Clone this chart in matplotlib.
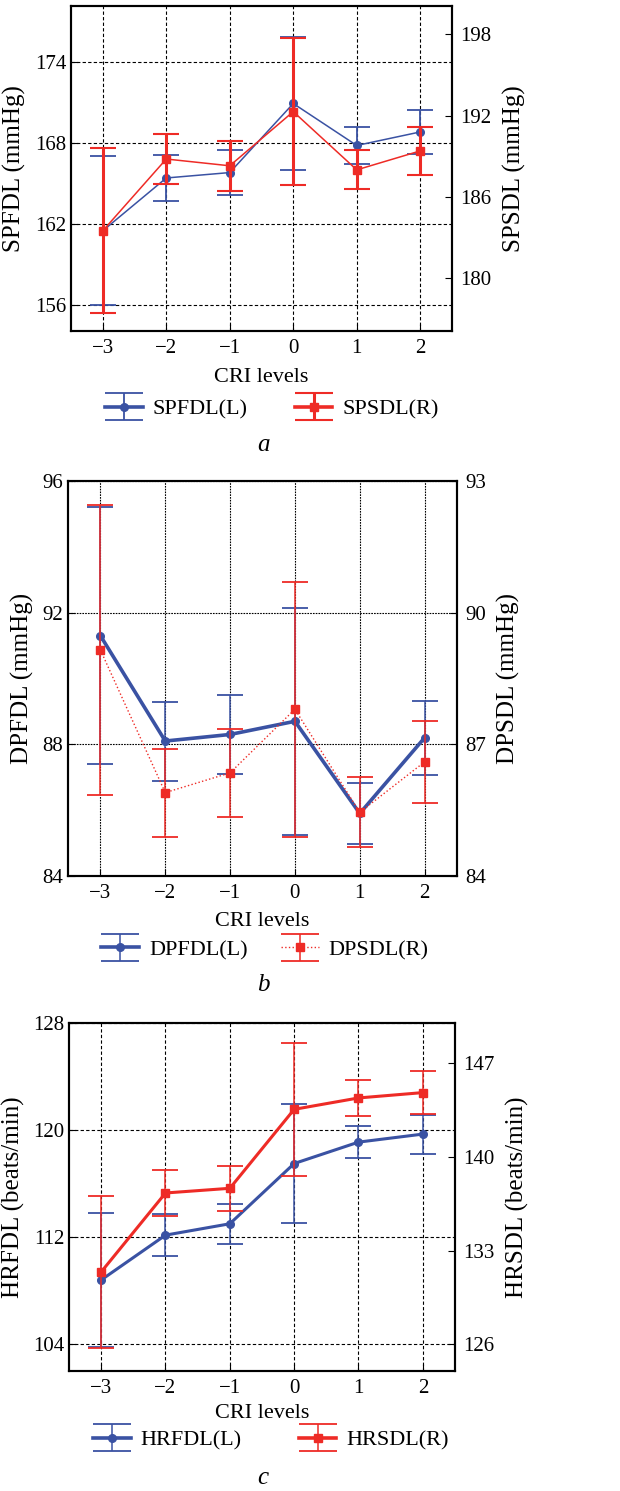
import numpy as np
import matplotlib.pyplot as plt
from matplotlib.container import ErrorbarContainer
from matplotlib.legend_handler import HandlerErrorbar
from matplotlib.lines import Line2D

plt.rcParams['font.family'] = ['Liberation Serif', 'DejaVu Serif']

W, H = 620, 1491
BLUE = '#3a52a3'
RED = '#ee2b26'

cri = [-3, -2, -1, 0, 1, 2]

# panel a
spfdl = [161.5, 165.4, 165.8, 170.9, 167.8, 168.8]
spfdl_err = [5.5, 1.7, 1.65, 4.9, 1.35, 1.6]
spsdl = [183.5, 188.8, 188.3, 192.3, 188.0, 189.4]
spsdl_err = [6.1, 1.85, 1.85, 5.4, 1.45, 1.75]

# panel b
dpfdl = [91.3, 88.1, 88.3, 88.7, 85.9, 88.2]
dpfdl_err = [3.9, 1.2, 1.2, 3.45, 0.94, 1.12]
dpsdl = [89.15, 85.9, 86.35, 87.8, 85.45, 86.6]
dpsdl_err = [3.3, 1.0, 1.0, 2.9, 0.8, 0.94]

# panel c
hrfdl = [108.8, 112.15, 113.0, 117.5, 119.1, 119.7]
hrfdl_err = [5.0, 1.55, 1.5, 4.45, 1.2, 1.46]
hrsdl = [131.4, 137.3, 137.65, 143.55, 144.4, 144.8]
hrsdl_err = [5.65, 1.73, 1.7, 4.97, 1.35, 1.6]


class WideCaps(HandlerErrorbar):
    # legend caps as wide as the handle, main line a bit heavier
    def create_artists(self, legend, orig_handle, xdescent, ydescent,
                       width, height, fontsize, trans):
        arts = super().create_artists(legend, orig_handle, xdescent,
                                      ydescent, width, height, fontsize, trans)
        for a in arts:
            if isinstance(a, Line2D):
                if a.get_marker() == '_':
                    a.set_markersize(width)
                elif a.get_linestyle() == '-':
                    a.set_linewidth(max(a.get_linewidth(), 2.6))
        return arts


def fx(px):
    return px / W


def fy(py):
    return 1 - py / H


fig = plt.figure(figsize=(W / 100, H / 100), dpi=100)


def panel(box, yl, yr, names, ylabels, llim, rlim, lticks, rticks,
          lstyle, rstyle, xlab_y, leg_xy, colsp, letter, letter_y,
          grid_ls=(0, (3, 2))):
    x0, y0, x1, y1 = box
    ax = fig.add_axes([fx(x0), fy(y1), fx(x1 - x0), (y1 - y0) / H])
    ax2 = ax.twinx()
    h1 = ax.errorbar(cri, yl[0], yerr=yl[1], color=BLUE, marker='o',
                     ms=5.5, capsize=9.5, **lstyle)
    h2 = ax2.errorbar(cri, yr[0], yerr=yr[1], color=RED, marker='s',
                      ms=5.5, capsize=9.5, **rstyle)
    ax.set_xlim(-3.5, 2.5)
    ax.set_ylim(*llim)
    ax2.set_ylim(*rlim)
    ax.set_xticks(cri)
    ax.set_yticks(lticks)
    ax2.set_yticks(rticks)
    ax.grid(True, color='black', linestyle=grid_ls, lw=0.8)
    for a in (ax, ax2):
        a.tick_params(direction='in', labelsize=15, length=5)
        for s in a.spines.values():
            s.set_linewidth(1.5)
    ax.tick_params(axis='x', pad=6)
    ax2.tick_params(axis='y', pad=6)
    ax.set_ylabel(ylabels[0], fontsize=18, labelpad=6)
    ax2.set_ylabel(ylabels[1], fontsize=18, labelpad=8)
    fig.text(fx((x0 + x1) / 2), fy(xlab_y), 'CRI levels', fontsize=16,
             ha='center', va='center')
    ax.legend([h1, h2], names, loc='center', ncol=2, frameon=False,
              fontsize=16, handlelength=1.7, handletextpad=0.45,
              columnspacing=colsp,
              handler_map={ErrorbarContainer: WideCaps(yerr_size=0.6)},
              bbox_to_anchor=(fx(leg_xy[0]), fy(leg_xy[1])),
              bbox_transform=fig.transFigure)
    fig.text(fx(263), fy(letter_y), letter, fontsize=18,
             style='italic', ha='center', va='center')
    return ax, ax2


panel((71, 6, 452, 331), (spfdl, spfdl_err), (spsdl, spsdl_err),
      ['SPFDL(L)', 'SPSDL(R)'], ['SPFDL (mmHg)', 'SPSDL (mmHg)'],
      (154.1, 178.1), (176.1, 200.1), [156, 162, 168, 174],
      [180, 186, 192, 198],
      dict(lw=1.1, elinewidth=1.3, capthick=1.3),
      dict(lw=1.1, elinewidth=2.2, capthick=1.5),
      378, (272, 409), 2.1, 'a', 445)

panel((68, 481, 457, 876), (dpfdl, dpfdl_err), (dpsdl, dpsdl_err),
      ['DPFDL(L)', 'DPSDL(R)'], ['DPFDL (mmHg)', 'DPSDL (mmHg)'],
      (84, 96), (84, 93), [84, 88, 92, 96], [84, 87, 90, 93],
      dict(lw=2.6, elinewidth=1.1, capthick=1.3),
      dict(lw=1.0, ls=':', elinewidth=1.1, capthick=1.3),
      921, (265, 950), 1.5, 'b', 985, grid_ls=(0, (1.5, 1)))

panel((69, 1023, 455, 1371), (hrfdl, hrfdl_err), (hrsdl, hrsdl_err),
      ['HRFDL(L)', 'HRSDL(R)'], ['HRFDL (beats/min)', 'HRSDL (beats/min)'],
      (102, 128), (124, 150), [104, 112, 120, 128], [126, 133, 140, 147],
      dict(lw=2.2, elinewidth=1.1, capthick=1.3),
      dict(lw=2.2, elinewidth=1.1, capthick=1.3),
      1413, (271, 1440), 2.55, 'c', 1478)

fig.savefig('out.png', dpi=100)
